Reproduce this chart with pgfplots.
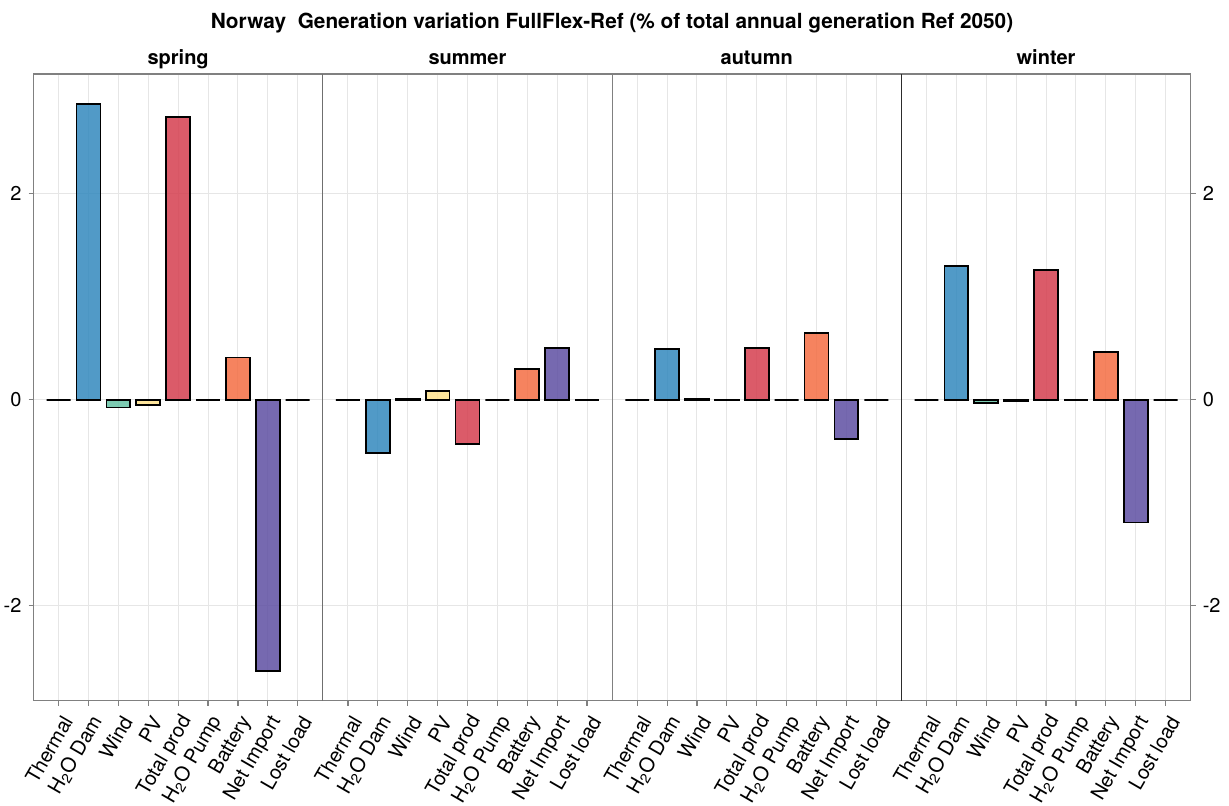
\documentclass[border=0pt]{standalone}
\usepackage{pgfplots}
\pgfplotsset{compat=1.18}
\usepackage{pgfplotstable}
\usepackage{fontspec}
\setmainfont{TeX Gyre Heros}

% Spectral-style palette
\definecolor{cTh}{HTML}{9E0142}
\definecolor{cDam}{HTML}{3288BD}
\definecolor{cWind}{HTML}{66C2A5}
\definecolor{cPV}{HTML}{FEE08B}
\definecolor{cTot}{HTML}{D53E4F}
\definecolor{cPump}{HTML}{ABDDA4}
\definecolor{cBat}{HTML}{F46D43}
\definecolor{cImp}{HTML}{5E4FA2}
\definecolor{cLost}{HTML}{E6F598}
\definecolor{spine}{HTML}{808080}
\definecolor{gridc}{HTML}{E6E6E6}

% Generation variation FullFlex-Ref, % of total annual generation Ref 2050
\pgfplotstableread{
x spring summer autumn winter
1 0      0      0      0
2 2.87  -0.52   0.49   1.30
3 -0.075 0.01   0.005 -0.035
4 -0.05  0.085  0.003 -0.01
5 2.74  -0.43   0.50   1.26
6 0      0      0      0
7 0.41   0.30   0.645  0.46
8 -2.635 0.50  -0.38  -1.19
9 0      0      0      0
}\gendata

\newcommand{\onebar}[3]{% column, x range of one category, colour
  \addplot[draw=black, line width=0.9pt, fill=#3, fill opacity=0.85, draw opacity=1]
    table[x=x, y=#1, restrict x to domain=#2] {\gendata};}
\newcommand{\seasonbars}[1]{%
  \onebar{#1}{0.8:1.2}{cTh}\onebar{#1}{1.8:2.2}{cDam}\onebar{#1}{2.8:3.2}{cWind}%
  \onebar{#1}{3.8:4.2}{cPV}\onebar{#1}{4.8:5.2}{cTot}\onebar{#1}{5.8:6.2}{cPump}%
  \onebar{#1}{6.8:7.2}{cBat}\onebar{#1}{7.8:8.2}{cImp}\onebar{#1}{8.8:9.2}{cLost}}

\pgfplotsset{
  panel/.style={
    scale only axis, width=144.65pt, height=313.35pt,
    anchor=north west,
    xmin=0.16, xmax=9.84, ymin=-2.92, ymax=3.16,
    ybar, bar width=0.8, bar shift=0pt,
    axis line style={spine, line width=0.6pt},
    xtick={1,...,9},
    xticklabels={Thermal, H\textsubscript{2}O Dam, Wind, PV, Total prod,
                 H\textsubscript{2}O Pump, Battery, Net Import, Lost load},
    xtick pos=bottom,
    xticklabel style={xshift=5pt, yshift=-5pt, rotate=60, anchor=east,
                      font=\fontsize{10}{12}\selectfont, inner sep=1pt},
    ytick={-2,0,2},
    yticklabel style={font=\fontsize{10}{12}\selectfont},
    /pgf/number format/assume math mode=true,
    tick align=outside, major tick length=2.5pt,
    tick style={spine, line width=0.6pt},
    grid=major, major grid style={gridc, line width=0.5pt},
    title style={font=\bfseries\fontsize{10}{12}\selectfont, at={(0.5,1)}, anchor=base, yshift=-1pt},
  },
}

\begin{document}
\begin{tikzpicture}
\path[use as bounding box] (0,0) rectangle (614.5pt,-402.5pt);
\node[font=\bfseries\fontsize{10.4}{12}\selectfont, anchor=base] at (306pt,-14.3pt)
  {Norway\ \ Generation variation FullFlex-Ref (\% of total annual generation Ref 2050)};

\begin{axis}[panel, at={(16.75pt,-37pt)}, ytick pos=left, title={spring}]
  \seasonbars{spring}
  \draw[black, line width=0.6pt] (rel axis cs:1,0) -- (rel axis cs:1,1);
\end{axis}

\begin{axis}[panel, at={(161.4pt,-37pt)}, ytick pos=left, yticklabels={},
  ytick style={draw=none}, title={summer}]
  \seasonbars{summer}
  \draw[black, line width=0.6pt] (rel axis cs:1,0) -- (rel axis cs:1,1);
  \draw[black, line width=0.6pt] (rel axis cs:0,0) -- (rel axis cs:0,1);
\end{axis}

\begin{axis}[panel, at={(306.05pt,-37pt)}, ytick pos=left, yticklabels={},
  ytick style={draw=none}, title={autumn}]
  \seasonbars{autumn}
  \draw[black, line width=0.6pt] (rel axis cs:1,0) -- (rel axis cs:1,1);
\end{axis}

\begin{axis}[panel, at={(450.7pt,-37pt)}, ytick pos=right, yticklabel pos=right, title={winter}]
  \seasonbars{winter}
  \draw[black, line width=0.6pt] (rel axis cs:0,0) -- (rel axis cs:0,1);
\end{axis}
\end{tikzpicture}
\end{document}
